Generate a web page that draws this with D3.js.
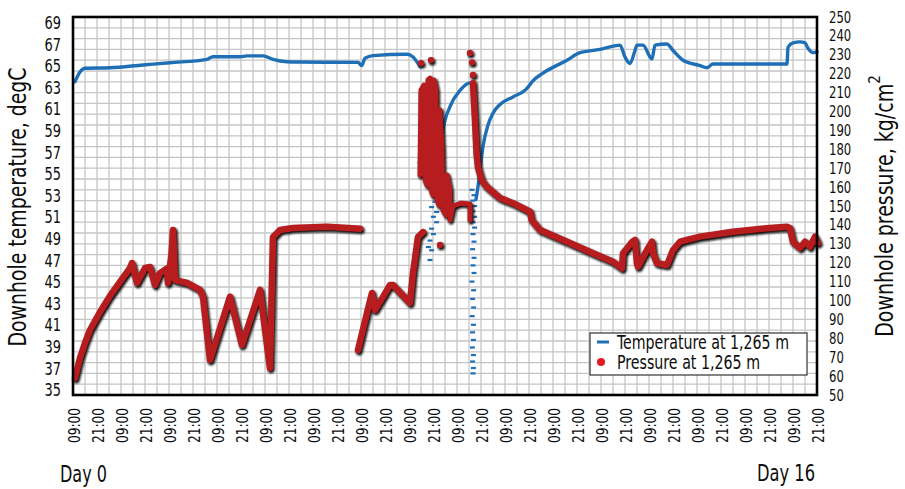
<!DOCTYPE html>
<html><head><meta charset="utf-8">
<script src="https://cdn.jsdelivr.net/npm/d3@7"></script>
<style>
body{margin:0;background:#fff}
text{font-family:'Liberation Sans Narrow','DejaVu Sans Condensed','Roboto',sans-serif;fill:#0d0d0d}
</style>
</head><body>
<svg id="c" width="905" height="489"></svg>
<script>
// ---- data (hours from Day 0 09:00) ----
const xTickLabels = ["09:00","21:00","09:00","21:00","09:00","21:00","09:00","21:00","09:00","21:00","09:00","21:00","09:00","21:00","09:00","21:00","09:00","21:00","09:00","21:00","09:00","21:00","09:00","21:00","09:00","21:00","09:00","21:00","09:00","21:00","09:00","21:00"];
const tempTicks = [35,37,39,41,43,45,47,49,51,53,55,57,59,61,63,65,67,69];
const pressTicks = [50,60,70,80,90,100,110,120,130,140,150,160,170,180,190,200,210,220,230,240,250];

const tempSeg1 = [[1,63.5],[3.5,64.4],[6,64.75],[18.5,64.8],[35,65.06],[48.5,65.27],[67,65.58],[70,65.82],[83.5,65.82],[87,65.9],[95,65.9],[100,65.58],[107,65.36],[113.5,65.33],[142.5,65.3],[144.3,65.0],[146,65.68],[150,65.92],[167,66.05],[170,65.8],[173.5,64.9]];
const tempSeg2 = [[181.5,53.0],[182.5,54.4],[183.5,55.3],[185,59.0],[188.5,61.2],[193.5,62.7],[198.5,63.4],[199.5,63.3]];
const tempSeg3 = [[201.5,52.6],[202.5,53.8],[203.5,55.3],[205,57.5],[207.5,59.5],[210,60.6],[213.5,61.4],[220,62.1],[226.5,62.8],[227.5,63.0],[229.5,63.5],[235,64.3],[247,65.5],[253.5,66.2],[263.5,66.5],[270,66.8],[273.5,66.9],[276,65.8],[278.5,65.2],[281,66.4],[282,66.9],[285,66.9],[288.5,65.8],[289.5,65.6],[291,66.9],[297,67.0],[300,66.4],[305,65.5],[313.5,65.0],[317,64.8],[320,65.15],[330,65.15],[357,65.15],[357.5,66.7],[360,67.1],[363.5,67.2],[366,67.1],[367.5,66.6],[370,66.2],[372,66.3]];
const tempDashes = [[173.5,56.0],[174.3,55.2],[179.3,53.65],[180.2,53.2],[181,52.4],[179.3,51.9],[181.8,51.45],[180.2,51.0],[181.8,50.5],[179.3,49.9],[180.2,49.4],[178.5,48.8],[177.7,48.2],[179.3,47.9],[178.5,47.0],
  [199.5,53.5],[200.5,53.0],[199.8,52.5],[200.8,52.0],[200,51.5],[200.8,51.0],[200,50.5],[200.8,50.0],[200,49.4],[200.5,48.7],[199.8,48.0],[200.5,47.2],[200,46.5],[200.5,45.8],[199.5,45.0],[200.3,44.2],[199.8,43.4],[200.3,42.6],[199.6,41.8],[200.2,41.0],[199.8,40.3],[200.2,39.6],[199.7,38.9],[200.2,38.2],[199.8,37.6],[200.2,37.0],[200,36.5]];

const pressSeg1 = [[1,59],[2,63.2],[3.5,69.6],[6,77.5],[8.5,84.4],[13.5,93.9],[18.5,102.4],[23.5,109.8],[28.5,117.2],[29.5,119.8],[32,109.3],[36,117.2],[38.5,117.7],[41,108.2],[43.5,114.5],[47,117],[47.5,109.3],[49.3,125],[50,137.3],[50.5,125],[51,110.8],[57,109.3],[63.5,105.6],[65,102],[68.5,68.5],[78.5,102],[84.5,76.5],[93.5,105.6],[98.5,64.3],[100,133.6],[103.5,137.3],[110,138.4],[127,139],[143.5,138]];
const pressSeg2 = [[142.5,73.8],[147,93.4],[149.5,104],[151,95],[155,101.9],[158.5,108.2],[160,108.2],[168.5,98.7],[170,114.5],[172.5,133.6],[175,136.2]];
const pressSeg3 = [[173.5,166.4],[174,211.4],[175.5,214],[176,163.8],[177,161.1],[177.5,216.7],[178.5,217.7],[179,158.5],[180,155.8],[180.5,216.7],[181.5,211.4],[182,153.2],[183,150.5],[183.5,200.8],[184.5,179.6],[185,147.9],[186.5,145.2],[187,166.4],[188.5,158.5],[188.5,142.6],[190,150],[194,151.5],[198.5,151],[198.5,142.6]];
const pressSeg4 = [[200,215],[201,195.5],[201.8,178],[202.5,170.6],[204.3,163.8],[206.8,160.2],[213.5,154.2],[220,151.5],[226.8,147.9],[228.5,147],[229.3,142.6],[233.5,137.3],[247,131.1],[260,125],[270,120.5],[274.5,117],[275,125],[279.5,131],[281,132],[282,119.7],[282.5,117.9],[287,126.7],[289.5,131.1],[290,125],[292,119.7],[297,118.8],[300,126.7],[303.5,131.1],[313.5,133.8],[330,136.4],[347,138.2],[357,139],[358.5,138.3],[360,131.1],[363.5,127.8],[366,131.1],[368.5,128.5],[371,133.8],[372.5,130.4]];
const pressDots = [[174,225.5],[179,227.2],[183.5,129.4],[198.5,231],[199.5,226],[200,219.3]];

// ---- layout ----
const L = 73, R = 817, T = 17, B = 395;
const svg = d3.select("#c");
const x = d3.scaleLinear().domain([0, 372]).range([L, R]);
const yT = d3.scaleLinear().domain([34.5, 69.5]).range([B, T]);
const yP = d3.scaleLinear().domain([50, 250]).range([B, T]);
const fit = (sel, len) => sel.attr("textLength", len).attr("lengthAdjust", "spacingAndGlyphs");

// grid
const g = svg.append("g");
g.selectAll("line.v").data(d3.range(6, 372, 6)).join("line")
  .attr("x1", d => x(d)).attr("x2", d => x(d)).attr("y1", T).attr("y2", B)
  .attr("stroke", "#c6c6c6").attr("stroke-width", 1.3);
g.selectAll("line.h").data(d3.range(35.5, 69.5, 1)).join("line")
  .attr("y1", d => yT(d)).attr("y2", d => yT(d)).attr("x1", L).attr("x2", R)
  .attr("stroke", "#c6c6c6").attr("stroke-width", 1.3);

const defs = svg.append("defs");
defs.append("filter").attr("id", "blur").append("feGaussianBlur").attr("stdDeviation", 1.1);

// temperature
const lineTs = d3.line().x(d => x(d[0])).y(d => yT(d[1])).curve(d3.curveMonotoneX);
[tempSeg1, tempSeg2, tempSeg3].forEach(s => {
  svg.append("path").attr("d", lineTs(s)).attr("fill", "none")
    .attr("stroke", "#1f6fb7").attr("stroke-width", 3.4)
    .attr("stroke-linejoin", "round").attr("stroke-linecap", "round");
});
svg.selectAll("rect.td").data(tempDashes).join("rect")
  .attr("x", d => x(d[0]) - 2.5).attr("y", d => yT(d[1]) - 1.1)
  .attr("width", 5).attr("height", 2.2).attr("fill", "#1f6fb7");

// pressure
const lineP = d3.line().x(d => x(d[0])).y(d => yP(d[1]));
const pSegs = [pressSeg1, pressSeg2, pressSeg3, pressSeg4];
const widths = [6.5, 6.5, 5, 6.5];
const shadow = svg.append("g").attr("transform", "translate(1.3,1.8)").attr("filter", "url(#blur)");
pSegs.forEach((s, i) => shadow.append("path").attr("d", lineP(s)).attr("fill", "none")
  .attr("stroke", "#111").attr("stroke-width", widths[i] + 0.5).attr("stroke-linejoin", "round").attr("stroke-linecap", "round"));
shadow.selectAll("circle").data(pressDots).join("circle")
  .attr("cx", d => x(d[0])).attr("cy", d => yP(d[1])).attr("r", 3.5).attr("fill", "#111");
const red = svg.append("g");
pSegs.forEach((s, i) => red.append("path").attr("d", lineP(s)).attr("fill", "none")
  .attr("stroke", "#b71c1f").attr("stroke-width", widths[i]).attr("stroke-linejoin", "round").attr("stroke-linecap", "round"));
red.selectAll("circle").data(pressDots).join("circle")
  .attr("cx", d => x(d[0])).attr("cy", d => yP(d[1])).attr("r", 3.2).attr("fill", "#b71c1f");

// frame
svg.append("rect").attr("x", L).attr("y", T).attr("width", R - L).attr("height", B - T)
  .attr("fill", "none").attr("stroke", "#000").attr("stroke-width", 2.6);

// left ticks
svg.selectAll("text.lt").data(tempTicks).join("text")
  .attr("x", 61).attr("y", d => yT(d)).attr("text-anchor", "end")
  .attr("dominant-baseline", "central").attr("font-size", 18).text(d => d)
  .attr("textLength", 16.5).attr("lengthAdjust", "spacingAndGlyphs");
// right ticks
svg.selectAll("text.rt").data(pressTicks).join("text")
  .attr("x", 829).attr("y", d => yP(d)).attr("text-anchor", "start")
  .attr("dominant-baseline", "central").attr("font-size", 16).text(d => d)
  .attr("textLength", d => String(d).length * 7.4).attr("lengthAdjust", "spacingAndGlyphs");
// x ticks
svg.selectAll("text.xt").data(xTickLabels).join("text")
  .attr("transform", (d, i) => `translate(${x(i * 12) + 1.5},408) rotate(-90)`)
  .attr("text-anchor", "end").attr("dominant-baseline", "central")
  .attr("font-size", 16).text(d => d)
  .attr("textLength", 35).attr("lengthAdjust", "spacingAndGlyphs");

// axis titles
fit(svg.append("text").attr("transform", "translate(17,207) rotate(-90)")
  .attr("text-anchor", "middle").attr("dominant-baseline", "central")
  .attr("font-size", 25).text("Downhole temperature, degC"), 279);
const rt = svg.append("text").attr("transform", "translate(884,206) rotate(-90)")
  .attr("text-anchor", "middle").attr("dominant-baseline", "central").attr("font-size", 25);
fit(rt.append("tspan").text("Downhole pressure, kg/cm"), 253);
rt.append("tspan").attr("font-size", 15).attr("dy", -9).text("2");

fit(svg.append("text").attr("x", 60).attr("y", 482).attr("font-size", 23).text("Day 0"), 47);
fit(svg.append("text").attr("x", 757).attr("y", 481).attr("font-size", 23).text("Day 16"), 58);

// legend
const lg = svg.append("g");
lg.append("rect").attr("x", 590).attr("y", 333).attr("width", 217).attr("height", 42)
  .attr("fill", "#fff").attr("stroke", "#333").attr("stroke-width", 1.2);
lg.append("line").attr("x1", 597).attr("x2", 609).attr("y1", 342).attr("y2", 342)
  .attr("stroke", "#1f6fb7").attr("stroke-width", 3);
lg.append("circle").attr("cx", 601).attr("cy", 362).attr("r", 4).attr("fill", "#e01b22");
fit(lg.append("text").attr("x", 617).attr("y", 342).attr("dominant-baseline", "central")
  .attr("font-size", 19).text("Temperature at 1,265 m"), 172);
fit(lg.append("text").attr("x", 617).attr("y", 362).attr("dominant-baseline", "central")
  .attr("font-size", 19).text("Pressure at 1,265 m"), 143);
</script>
</body></html>
